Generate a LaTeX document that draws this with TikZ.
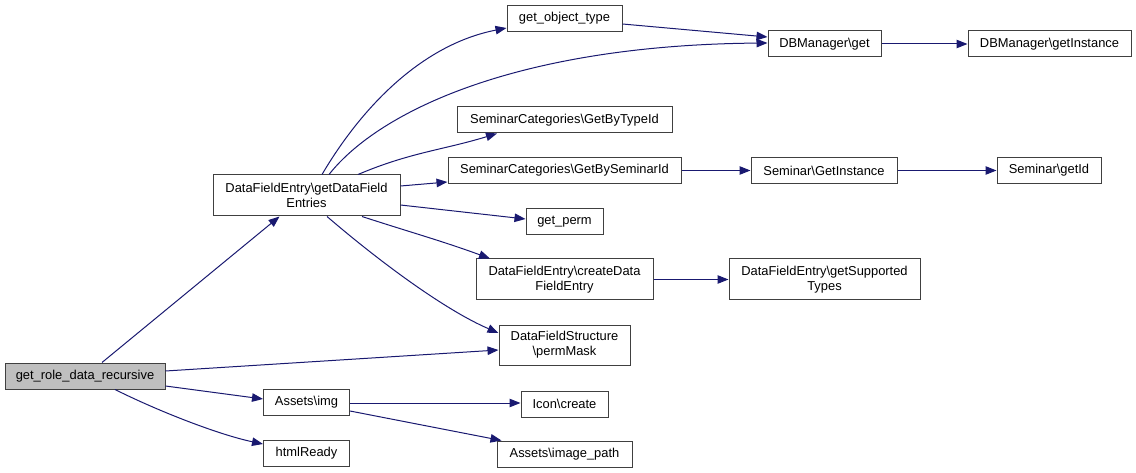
\documentclass[tikz,border=0pt]{standalone}
\usepackage{fontspec}
\setmainfont{Liberation Sans}
\usepackage{xcolor}
\usepackage{tikz}
\usetikzlibrary{arrows.meta}

\definecolor{edgeblue}{HTML}{191970}
\definecolor{rootgray}{HTML}{BFBFBF}
\newcommand{\bs}{\textbackslash}

\tikzset{
  fn/.style={draw=black!75, line width=1pt, rectangle, fill=white, inner sep=0pt, align=center, minimum height=26pt, font=\fontsize{12.9}{15}\selectfont},
  call/.style={draw=edgeblue, line width=1pt, -{Triangle[length=11pt,width=8.5pt]}, fill=none}
}

\begin{document}
\begin{tikzpicture}[x=1pt, y=-1pt]
        \useasboundingbox (0,0) rectangle (1136,473);

        % callers and callees
        \node[fn, fill=rootgray, minimum width=160pt] (root) at (85,376) {get\_role\_data\_recursive};
        \node[fn, minimum width=187pt, minimum height=41pt] (dfe) at (306.5,195.5) {DataFieldEntry\bs getDataField\\Entries};
        \node[fn, minimum width=86pt] (img) at (306.5,402.5) {Assets\bs img};
        \node[fn, minimum width=86pt] (html) at (306.5,453.5) {htmlReady};

        \node[fn, minimum width=115pt] (objtype) at (564.5,18.5) {get\_object\_type};
        \node[fn, minimum width=215pt] (typeid) at (564.5,120) {SeminarCategories\bs GetByTypeId};
        \node[fn, minimum width=233pt] (semid) at (564.5,170.5) {SeminarCategories\bs GetBySeminarId};
        \node[fn, minimum width=77pt] (perm) at (564.5,221.5) {get\_perm};
        \node[fn, minimum width=177pt, minimum height=41pt] (create) at (564.5,279.5) {DataFieldEntry\bs createData\\FieldEntry};
        \node[fn, minimum width=131pt, minimum height=40pt] (mask) at (564.5,345) {DataFieldStructure\\\bs permMask};
        \node[fn, minimum width=87pt] (icon) at (564.5,404) {Icon\bs create};
        \node[fn, minimum width=135pt] (imgpath) at (564.5,454) {Assets\bs image\_path};

        \node[fn, minimum width=113pt] (dbget) at (824.5,44) {DBManager\bs get};
        \node[fn, minimum width=146pt] (seminst) at (824,170.5) {Seminar\bs GetInstance};
        \node[fn, minimum width=191pt, minimum height=41pt] (types) at (824.5,279.5) {DataFieldEntry\bs getSupported\\Types};

        \node[fn, minimum width=163pt] (dbinst) at (1049.5,44) {DBManager\bs getInstance};
        \node[fn, minimum width=104pt] (semget) at (1049,170.5) {Seminar\bs getId};

        % calls from get_role_data_recursive
        \draw[call] ([xshift=17pt]root.north) -- ([xshift=-27pt]dfe.south);
        \draw[call] (root.east |- 0,371) -- (mask.west |- 0,350);
        \draw[call] (root.east |- 0,386) -- (img.west |- 0,399);
        \draw[call] ([xshift=30pt]root.south) .. controls (160,412) and (220,435) .. (html.west |- 0,444);

        % calls from getDataFieldEntries
        \draw[call] ([xshift=15.5pt]dfe.north) .. controls (360,110) and (420,45) .. (objtype.west |- 0,28);
        \draw[call] ([xshift=22.5pt]dfe.north) .. controls (380,110) and (520,45) .. (dbget.west |- 0,43);
        \draw[call] ([xshift=51.5pt]dfe.north) to[out=23, in=197] ([xshift=-67.5pt]typeid.south);
        \draw[call] (dfe.east |- 0,186) -- (semid.west |- 0,182);
        \draw[call] (dfe.east |- 0,205) -- (perm.west |- 0,219);
        \draw[call] ([xshift=55.5pt]dfe.south) to[out=-18, in=160] ([xshift=-74.5pt]create.north);
        \draw[call] ([xshift=20.5pt]dfe.south) .. controls (380,262) and (445,310) .. (mask.west |- 0,333);

        % further down the chain
        \draw[call] (objtype.east |- 0,24) -- (dbget.west |- 0,37);
        \draw[call] (dbget) -- (dbinst);
        \draw[call] (semid) -- (seminst);
        \draw[call] (seminst) -- (semget);
        \draw[call] (create) -- (types);
        \draw[call] (img.east |- 0,403) -- (icon.west |- 0,403);
        \draw[call] (img.east |- 0,411) -- ([xshift=-63pt]imgpath.north);
    \end{tikzpicture}
\end{document}
